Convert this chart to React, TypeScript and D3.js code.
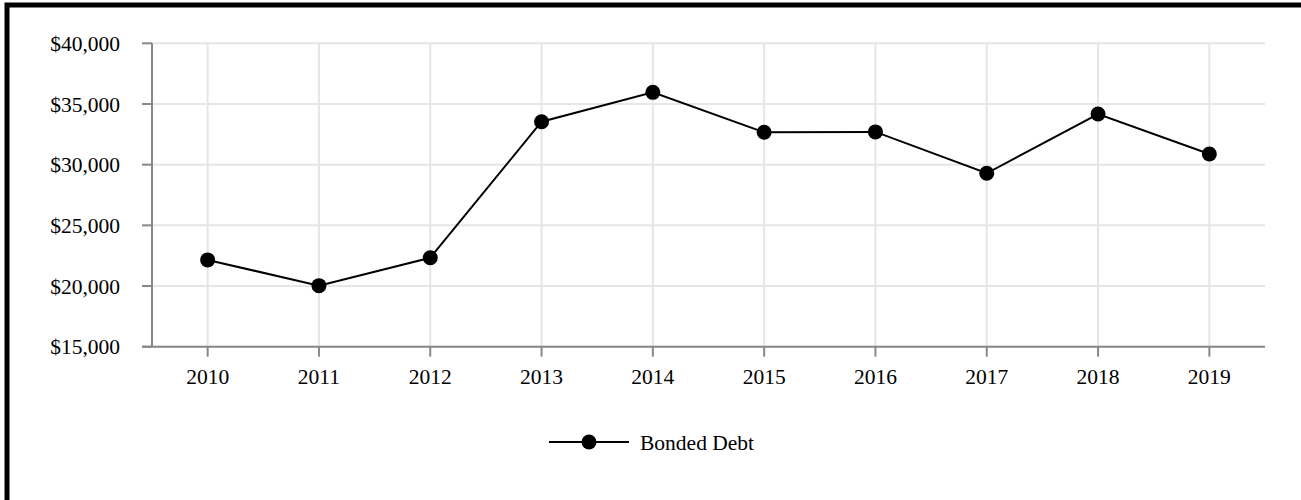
import React from "react";
import * as d3 from "d3";

const years = ["2010", "2011", "2012", "2013", "2014", "2015", "2016", "2017", "2018", "2019"];
const bondedDebt = [22150, 20030, 22330, 33540, 35960, 32670, 32700, 29290, 34170, 30880];
const yTicks = [15000, 20000, 25000, 30000, 35000, 40000];
const seriesName = "Bonded Debt";

const W = 1301;
const H = 500;
const plot = { left: 152, right: 1265, top: 43.3, bottom: 346.7 };

export default function App() {
  const x = d3.scaleBand<string>().domain(years).range([plot.left, plot.right]);
  const cx = (d: string) => (x(d) as number) + x.bandwidth() / 2;
  const y = d3.scaleLinear().domain([15000, 40000]).range([plot.bottom, plot.top]);
  const fmt = (v: number) => "$" + d3.format(",")(v);
  const line = d3
    .line<number>()
    .x((_, i) => cx(years[i]))
    .y((v) => y(v));
  const font = "'Liberation Serif', 'Times New Roman', serif";
  const fs = 21.5;
  const legendY = 442;
  const legendX0 = 549;
  const legendX1 = 629;
  return (
    <svg
      width={W}
      height={H}
      style={{ position: "absolute", left: 0, top: 0, background: "#fff" }}
      fontFamily={font}
    >
      <rect x={7} y={5} width={3000} height={3000} fill="none" stroke="#000" strokeWidth={5} />
      {/* gridlines */}
      {yTicks.map((t) => (
        <line key={"gy" + t} x1={plot.left} x2={plot.right} y1={y(t)} y2={y(t)} stroke="#e6e6e6" strokeWidth={2} />
      ))}
      {years.map((yr) => (
        <line key={"gx" + yr} x1={cx(yr)} x2={cx(yr)} y1={plot.top} y2={plot.bottom} stroke="#e6e6e6" strokeWidth={2} />
      ))}
      {/* y axis */}
      <line x1={plot.left} x2={plot.left} y1={plot.top} y2={plot.bottom} stroke="#888" strokeWidth={2} />
      {yTicks.map((t) => (
        <g key={"ty" + t}>
          <line x1={plot.left - 10} x2={plot.left} y1={y(t)} y2={y(t)} stroke="#888" strokeWidth={2} />
          <text x={120} y={y(t)} dy="0.35em" textAnchor="end" fontSize={fs} fill="#000">
            {fmt(t)}
          </text>
        </g>
      ))}
      {/* x axis */}
      <line x1={plot.left - 10} x2={plot.right} y1={plot.bottom} y2={plot.bottom} stroke="#888" strokeWidth={2} />
      {years.map((yr) => (
        <g key={"tx" + yr}>
          <line x1={cx(yr)} x2={cx(yr)} y1={plot.bottom} y2={plot.bottom + 10} stroke="#888" strokeWidth={2} />
          <text x={cx(yr)} y={376} dy="0.35em" textAnchor="middle" fontSize={fs} fill="#000">
            {yr}
          </text>
        </g>
      ))}
      {/* series */}
      <path d={line(bondedDebt) || ""} fill="none" stroke="#000" strokeWidth={2} />
      {bondedDebt.map((v, i) => (
        <circle key={"p" + i} cx={cx(years[i])} cy={y(v)} r={7.5} fill="#000" />
      ))}
      {/* legend */}
      <line x1={legendX0} x2={legendX1} y1={legendY} y2={legendY} stroke="#000" strokeWidth={2} />
      <circle cx={(legendX0 + legendX1) / 2} cy={legendY} r={7.5} fill="#000" />
      <text x={640} y={legendY} dy="0.35em" fontSize={fs} fill="#000">
        {seriesName}
      </text>
    </svg>
  );
}
